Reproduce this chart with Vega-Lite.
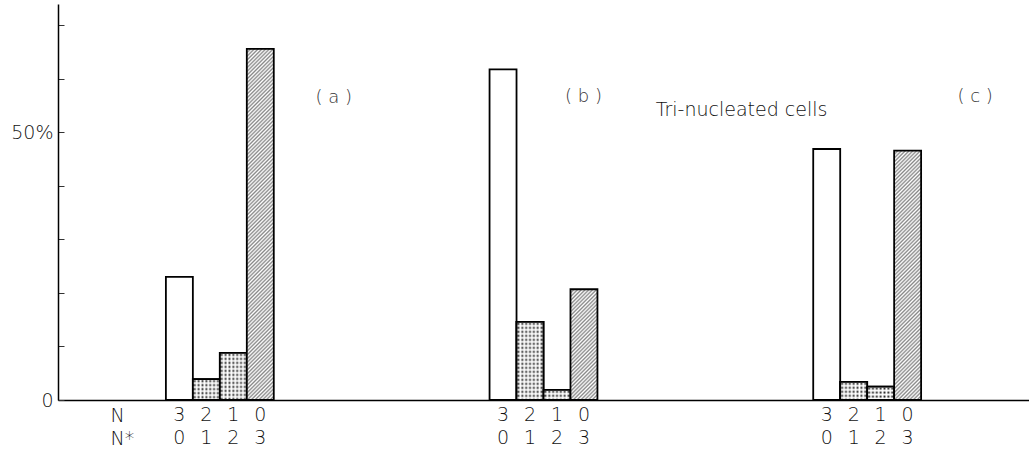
{
  "$schema": "https://vega.github.io/schema/vega-lite/v6.json",
  "width": 971,
  "height": 396,
  "autosize": {"type": "none"},
  "padding": {"left": 58, "top": 4, "right": 0, "bottom": 59},
  "background": "white",
  "config": {"view": {"stroke": null}},
  "datasets": {
    "bars": [
      {"group": "a", "N": "3", "Nstar": "0", "pct": 23.0},
      {"group": "a", "N": "2", "Nstar": "1", "pct": 3.9},
      {"group": "a", "N": "1", "Nstar": "2", "pct": 8.8},
      {"group": "a", "N": "0", "Nstar": "3", "pct": 65.6},
      {"group": "b", "N": "3", "Nstar": "0", "pct": 61.8},
      {"group": "b", "N": "2", "Nstar": "1", "pct": 14.6},
      {"group": "b", "N": "1", "Nstar": "2", "pct": 1.9},
      {"group": "b", "N": "0", "Nstar": "3", "pct": 20.7},
      {"group": "c", "N": "3", "Nstar": "0", "pct": 46.9},
      {"group": "c", "N": "2", "Nstar": "1", "pct": 3.4},
      {"group": "c", "N": "1", "Nstar": "2", "pct": 2.5},
      {"group": "c", "N": "0", "Nstar": "3", "pct": 46.6}
    ],
    "notes": [
      {"label": "( a )", "group": "a", "v": 56.5},
      {"label": "( b )", "group": "b", "v": 56.6},
      {"label": "( c )", "group": "c", "v": 56.6},
      {"label": "Tri-nucleated cells", "group": "b", "v": 54.2}
    ]
  },
  "data": {"name": "bars"},
  "layer": [
    {
      "transform": [{"filter": "datum.N == '3'"}],
      "mark": {"type": "bar", "stroke": "black", "strokeWidth": 1.8, "fill": "white"},
      "encoding": {
        "x": {"field": "group", "type": "nominal", "scale": {"domain": ["a", "b", "c"], "paddingInner": 0, "paddingOuter": 0},
          "axis": {"domain": true, "domainColor": "black", "domainWidth": 1.5, "ticks": false, "labels": false,
            "title": ["N", "N*"], "titleX": 52, "titleY": 21, "titleAlign": "left", "titleBaseline": "alphabetic", "titleAngle": 0,
            "titleFont": "DejaVu Sans", "titleFontSize": 19, "titleFontWeight": 300, "titleColor": "#111", "titleLineHeight": 23}},
        "xOffset": {"field": "N", "type": "nominal", "scale": {"domain": ["3", "2", "1", "0"], "paddingInner": 0, "paddingOuter": 0, "range": [107.89, 215.78]}},
        "y": {"field": "pct", "type": "quantitative", "scale": {"domain": [0, 74], "nice": false},
          "axis": {"values": [0, 10, 20, 30, 40, 50, 60, 70], "labelExpr": "datum.value == 50 ? '50%' : datum.value == 0 ? '0' : ''",
            "tickSize": -6, "tickColor": "#333", "tickWidth": 1, "domainColor": "black", "domainWidth": 1.5, "grid": false, "title": null,
            "labelFont": "DejaVu Sans", "labelFontSize": 19, "labelFontWeight": 300, "labelColor": "#111", "labelPadding": 11}}
      }
    },
    {
      "transform": [{"filter": "datum.N == '2' || datum.N == '1'"}],
      "mark": {"type": "bar", "stroke": "black", "strokeWidth": 1.8,
        "fill": {"gradient": "linear", "x1": 0, "y1": 0, "x2": 1, "y2": 0, "stops": [
          {"offset":0,"color":"#fff"},{"offset":0.0714,"color":"#222"},{"offset":0.1429,"color":"#fff"},{"offset":0.2143,"color":"#222"},{"offset":0.2857,"color":"#fff"},{"offset":0.3571,"color":"#222"},{"offset":0.4286,"color":"#fff"},{"offset":0.5,"color":"#222"},{"offset":0.5714,"color":"#fff"},{"offset":0.6429,"color":"#222"},{"offset":0.7143,"color":"#fff"},{"offset":0.7857,"color":"#222"},{"offset":0.8571,"color":"#fff"},{"offset":0.9286,"color":"#222"},{"offset":1,"color":"#fff"}
        ]}},
      "encoding": {
        "x": {"field": "group", "type": "nominal"},
        "xOffset": {"field": "N", "type": "nominal"},
        "y": {"field": "pct", "type": "quantitative"}
      }
    },
    {
      "transform": [{"filter": "datum.group == 'a' && datum.N == '2'"}],
      "mark": {"type": "bar", "stroke": "black", "strokeWidth": 1.8,
        "fill": {"gradient": "linear", "x1": 0, "y1": 0, "x2": 0, "y2": 3.828, "stops": [
          {"offset":0,"color":"#fff"},{"offset":0.025,"color":"rgba(255,255,255,0)"},{"offset":0.05,"color":"#fff"},{"offset":0.075,"color":"rgba(255,255,255,0)"},{"offset":0.1,"color":"#fff"},{"offset":0.125,"color":"rgba(255,255,255,0)"},{"offset":0.15,"color":"#fff"},{"offset":0.175,"color":"rgba(255,255,255,0)"},{"offset":0.2,"color":"#fff"},{"offset":0.225,"color":"rgba(255,255,255,0)"},{"offset":0.25,"color":"#fff"},{"offset":0.275,"color":"rgba(255,255,255,0)"}
        ]}},
      "encoding": {
        "x": {"field": "group", "type": "nominal"},
        "xOffset": {"field": "N", "type": "nominal"},
        "y": {"field": "pct", "type": "quantitative"}
      }
    },
    {
      "transform": [{"filter": "datum.group == 'a' && datum.N == '1'"}],
      "mark": {"type": "bar", "stroke": "black", "strokeWidth": 1.8,
        "fill": {"gradient": "linear", "x1": 0, "y1": 0, "x2": 0, "y2": 1.699, "stops": [
          {"offset":0,"color":"#fff"},{"offset":0.025,"color":"rgba(255,255,255,0)"},{"offset":0.05,"color":"#fff"},{"offset":0.075,"color":"rgba(255,255,255,0)"},{"offset":0.1,"color":"#fff"},{"offset":0.125,"color":"rgba(255,255,255,0)"},{"offset":0.15,"color":"#fff"},{"offset":0.175,"color":"rgba(255,255,255,0)"},{"offset":0.2,"color":"#fff"},{"offset":0.225,"color":"rgba(255,255,255,0)"},{"offset":0.25,"color":"#fff"},{"offset":0.275,"color":"rgba(255,255,255,0)"},
          {"offset":0.3,"color":"#fff"},{"offset":0.325,"color":"rgba(255,255,255,0)"},{"offset":0.35,"color":"#fff"},{"offset":0.375,"color":"rgba(255,255,255,0)"},{"offset":0.4,"color":"#fff"},{"offset":0.425,"color":"rgba(255,255,255,0)"},{"offset":0.45,"color":"#fff"},{"offset":0.475,"color":"rgba(255,255,255,0)"},{"offset":0.5,"color":"#fff"},{"offset":0.525,"color":"rgba(255,255,255,0)"},{"offset":0.55,"color":"#fff"},{"offset":0.575,"color":"rgba(255,255,255,0)"},{"offset":0.6,"color":"#fff"}
        ]}},
      "encoding": {
        "x": {"field": "group", "type": "nominal"},
        "xOffset": {"field": "N", "type": "nominal"},
        "y": {"field": "pct", "type": "quantitative"}
      }
    },
    {
      "transform": [{"filter": "datum.group == 'b' && datum.N == '2'"}],
      "mark": {"type": "bar", "stroke": "black", "strokeWidth": 1.8,
        "fill": {"gradient": "linear", "x1": 0, "y1": 0, "x2": 0, "y2": 1.024, "stops": [
          {"offset":0,"color":"#fff"},{"offset":0.025,"color":"rgba(255,255,255,0)"},{"offset":0.05,"color":"#fff"},{"offset":0.075,"color":"rgba(255,255,255,0)"},{"offset":0.1,"color":"#fff"},{"offset":0.125,"color":"rgba(255,255,255,0)"},{"offset":0.15,"color":"#fff"},{"offset":0.175,"color":"rgba(255,255,255,0)"},{"offset":0.2,"color":"#fff"},{"offset":0.225,"color":"rgba(255,255,255,0)"},{"offset":0.25,"color":"#fff"},{"offset":0.275,"color":"rgba(255,255,255,0)"},
          {"offset":0.3,"color":"#fff"},{"offset":0.325,"color":"rgba(255,255,255,0)"},{"offset":0.35,"color":"#fff"},{"offset":0.375,"color":"rgba(255,255,255,0)"},{"offset":0.4,"color":"#fff"},{"offset":0.425,"color":"rgba(255,255,255,0)"},{"offset":0.45,"color":"#fff"},{"offset":0.475,"color":"rgba(255,255,255,0)"},{"offset":0.5,"color":"#fff"},{"offset":0.525,"color":"rgba(255,255,255,0)"},{"offset":0.55,"color":"#fff"},{"offset":0.575,"color":"rgba(255,255,255,0)"},
          {"offset":0.6,"color":"#fff"},{"offset":0.625,"color":"rgba(255,255,255,0)"},{"offset":0.65,"color":"#fff"},{"offset":0.675,"color":"rgba(255,255,255,0)"},{"offset":0.7,"color":"#fff"},{"offset":0.725,"color":"rgba(255,255,255,0)"},{"offset":0.75,"color":"#fff"},{"offset":0.775,"color":"rgba(255,255,255,0)"},{"offset":0.8,"color":"#fff"},{"offset":0.825,"color":"rgba(255,255,255,0)"},{"offset":0.85,"color":"#fff"},{"offset":0.875,"color":"rgba(255,255,255,0)"},
          {"offset":0.9,"color":"#fff"},{"offset":0.925,"color":"rgba(255,255,255,0)"},{"offset":0.95,"color":"#fff"},{"offset":0.975,"color":"rgba(255,255,255,0)"},{"offset":1,"color":"#fff"}
        ]}},
      "encoding": {
        "x": {"field": "group", "type": "nominal"},
        "xOffset": {"field": "N", "type": "nominal"},
        "y": {"field": "pct", "type": "quantitative"}
      }
    },
    {
      "transform": [{"filter": "datum.group == 'b' && datum.N == '1'"}],
      "mark": {"type": "bar", "stroke": "black", "strokeWidth": 1.8,
        "fill": {"gradient": "linear", "x1": 0, "y1": 0, "x2": 0, "y2": 7.84, "stops": [
          {"offset":0,"color":"#fff"},{"offset":0.025,"color":"rgba(255,255,255,0)"},{"offset":0.05,"color":"#fff"},{"offset":0.075,"color":"rgba(255,255,255,0)"},{"offset":0.1,"color":"#fff"},{"offset":0.125,"color":"rgba(255,255,255,0)"},{"offset":0.15,"color":"#fff"}
        ]}},
      "encoding": {
        "x": {"field": "group", "type": "nominal"},
        "xOffset": {"field": "N", "type": "nominal"},
        "y": {"field": "pct", "type": "quantitative"}
      }
    },
    {
      "transform": [{"filter": "datum.group == 'c' && datum.N == '2'"}],
      "mark": {"type": "bar", "stroke": "black", "strokeWidth": 1.8,
        "fill": {"gradient": "linear", "x1": 0, "y1": 0, "x2": 0, "y2": 4.396, "stops": [
          {"offset":0,"color":"#fff"},{"offset":0.025,"color":"rgba(255,255,255,0)"},{"offset":0.05,"color":"#fff"},{"offset":0.075,"color":"rgba(255,255,255,0)"},{"offset":0.1,"color":"#fff"},{"offset":0.125,"color":"rgba(255,255,255,0)"},{"offset":0.15,"color":"#fff"},{"offset":0.175,"color":"rgba(255,255,255,0)"},{"offset":0.2,"color":"#fff"},{"offset":0.225,"color":"rgba(255,255,255,0)"},{"offset":0.25,"color":"#fff"}
        ]}},
      "encoding": {
        "x": {"field": "group", "type": "nominal"},
        "xOffset": {"field": "N", "type": "nominal"},
        "y": {"field": "pct", "type": "quantitative"}
      }
    },
    {
      "transform": [{"filter": "datum.group == 'c' && datum.N == '1'"}],
      "mark": {"type": "bar", "stroke": "black", "strokeWidth": 1.8,
        "fill": {"gradient": "linear", "x1": 0, "y1": 0, "x2": 0, "y2": 5.97, "stops": [
          {"offset":0,"color":"#fff"},{"offset":0.025,"color":"rgba(255,255,255,0)"},{"offset":0.05,"color":"#fff"},{"offset":0.075,"color":"rgba(255,255,255,0)"},{"offset":0.1,"color":"#fff"},{"offset":0.125,"color":"rgba(255,255,255,0)"},{"offset":0.15,"color":"#fff"},{"offset":0.175,"color":"rgba(255,255,255,0)"},{"offset":0.2,"color":"#fff"}
        ]}},
      "encoding": {
        "x": {"field": "group", "type": "nominal"},
        "xOffset": {"field": "N", "type": "nominal"},
        "y": {"field": "pct", "type": "quantitative"}
      }
    },
    {
      "transform": [{"filter": "datum.group == 'a' && datum.N == '0'"}],
      "mark": {"type": "bar", "stroke": "black", "strokeWidth": 1.8,
        "fill": {"gradient": "linear", "x1": 0, "y1": 0, "x2": 0.08235, "y2": 1.07059, "stops": [
          {"offset":0,"color":"#888"},{"offset":0.005,"color":"#fff"},{"offset":0.01,"color":"#888"},{"offset":0.015,"color":"#fff"},{"offset":0.02,"color":"#888"},{"offset":0.025,"color":"#fff"},{"offset":0.03,"color":"#888"},{"offset":0.035,"color":"#fff"},{"offset":0.04,"color":"#888"},{"offset":0.045,"color":"#fff"},
          {"offset":0.05,"color":"#888"},{"offset":0.055,"color":"#fff"},{"offset":0.06,"color":"#888"},{"offset":0.065,"color":"#fff"},{"offset":0.07,"color":"#888"},{"offset":0.075,"color":"#fff"},{"offset":0.08,"color":"#888"},{"offset":0.085,"color":"#fff"},{"offset":0.09,"color":"#888"},{"offset":0.095,"color":"#fff"},
          {"offset":0.1,"color":"#888"},{"offset":0.105,"color":"#fff"},{"offset":0.11,"color":"#888"},{"offset":0.115,"color":"#fff"},{"offset":0.12,"color":"#888"},{"offset":0.125,"color":"#fff"},{"offset":0.13,"color":"#888"},{"offset":0.135,"color":"#fff"},{"offset":0.14,"color":"#888"},{"offset":0.145,"color":"#fff"},
          {"offset":0.15,"color":"#888"},{"offset":0.155,"color":"#fff"},{"offset":0.16,"color":"#888"},{"offset":0.165,"color":"#fff"},{"offset":0.17,"color":"#888"},{"offset":0.175,"color":"#fff"},{"offset":0.18,"color":"#888"},{"offset":0.185,"color":"#fff"},{"offset":0.19,"color":"#888"},{"offset":0.195,"color":"#fff"},
          {"offset":0.2,"color":"#888"},{"offset":0.205,"color":"#fff"},{"offset":0.21,"color":"#888"},{"offset":0.215,"color":"#fff"},{"offset":0.22,"color":"#888"},{"offset":0.225,"color":"#fff"},{"offset":0.23,"color":"#888"},{"offset":0.235,"color":"#fff"},{"offset":0.24,"color":"#888"},{"offset":0.245,"color":"#fff"},
          {"offset":0.25,"color":"#888"},{"offset":0.255,"color":"#fff"},{"offset":0.26,"color":"#888"},{"offset":0.265,"color":"#fff"},{"offset":0.27,"color":"#888"},{"offset":0.275,"color":"#fff"},{"offset":0.28,"color":"#888"},{"offset":0.285,"color":"#fff"},{"offset":0.29,"color":"#888"},{"offset":0.295,"color":"#fff"},
          {"offset":0.3,"color":"#888"},{"offset":0.305,"color":"#fff"},{"offset":0.31,"color":"#888"},{"offset":0.315,"color":"#fff"},{"offset":0.32,"color":"#888"},{"offset":0.325,"color":"#fff"},{"offset":0.33,"color":"#888"},{"offset":0.335,"color":"#fff"},{"offset":0.34,"color":"#888"},{"offset":0.345,"color":"#fff"},
          {"offset":0.35,"color":"#888"},{"offset":0.355,"color":"#fff"},{"offset":0.36,"color":"#888"},{"offset":0.365,"color":"#fff"},{"offset":0.37,"color":"#888"},{"offset":0.375,"color":"#fff"},{"offset":0.38,"color":"#888"},{"offset":0.385,"color":"#fff"},{"offset":0.39,"color":"#888"},{"offset":0.395,"color":"#fff"},
          {"offset":0.4,"color":"#888"},{"offset":0.405,"color":"#fff"},{"offset":0.41,"color":"#888"},{"offset":0.415,"color":"#fff"},{"offset":0.42,"color":"#888"},{"offset":0.425,"color":"#fff"},{"offset":0.43,"color":"#888"},{"offset":0.435,"color":"#fff"},{"offset":0.44,"color":"#888"},{"offset":0.445,"color":"#fff"},
          {"offset":0.45,"color":"#888"},{"offset":0.455,"color":"#fff"},{"offset":0.46,"color":"#888"},{"offset":0.465,"color":"#fff"},{"offset":0.47,"color":"#888"},{"offset":0.475,"color":"#fff"},{"offset":0.48,"color":"#888"},{"offset":0.485,"color":"#fff"},{"offset":0.49,"color":"#888"},{"offset":0.495,"color":"#fff"},
          {"offset":0.5,"color":"#888"},{"offset":0.505,"color":"#fff"},{"offset":0.51,"color":"#888"},{"offset":0.515,"color":"#fff"},{"offset":0.52,"color":"#888"},{"offset":0.525,"color":"#fff"},{"offset":0.53,"color":"#888"},{"offset":0.535,"color":"#fff"},{"offset":0.54,"color":"#888"},{"offset":0.545,"color":"#fff"},
          {"offset":0.55,"color":"#888"},{"offset":0.555,"color":"#fff"},{"offset":0.56,"color":"#888"},{"offset":0.565,"color":"#fff"},{"offset":0.57,"color":"#888"},{"offset":0.575,"color":"#fff"},{"offset":0.58,"color":"#888"},{"offset":0.585,"color":"#fff"},{"offset":0.59,"color":"#888"},{"offset":0.595,"color":"#fff"},
          {"offset":0.6,"color":"#888"},{"offset":0.605,"color":"#fff"},{"offset":0.61,"color":"#888"},{"offset":0.615,"color":"#fff"},{"offset":0.62,"color":"#888"},{"offset":0.625,"color":"#fff"},{"offset":0.63,"color":"#888"},{"offset":0.635,"color":"#fff"},{"offset":0.64,"color":"#888"},{"offset":0.645,"color":"#fff"},
          {"offset":0.65,"color":"#888"},{"offset":0.655,"color":"#fff"},{"offset":0.66,"color":"#888"},{"offset":0.665,"color":"#fff"},{"offset":0.67,"color":"#888"},{"offset":0.675,"color":"#fff"},{"offset":0.68,"color":"#888"},{"offset":0.685,"color":"#fff"},{"offset":0.69,"color":"#888"},{"offset":0.695,"color":"#fff"},
          {"offset":0.7,"color":"#888"},{"offset":0.705,"color":"#fff"},{"offset":0.71,"color":"#888"},{"offset":0.715,"color":"#fff"},{"offset":0.72,"color":"#888"},{"offset":0.725,"color":"#fff"},{"offset":0.73,"color":"#888"},{"offset":0.735,"color":"#fff"},{"offset":0.74,"color":"#888"},{"offset":0.745,"color":"#fff"},
          {"offset":0.75,"color":"#888"},{"offset":0.755,"color":"#fff"},{"offset":0.76,"color":"#888"},{"offset":0.765,"color":"#fff"},{"offset":0.77,"color":"#888"},{"offset":0.775,"color":"#fff"},{"offset":0.78,"color":"#888"},{"offset":0.785,"color":"#fff"},{"offset":0.79,"color":"#888"},{"offset":0.795,"color":"#fff"},
          {"offset":0.8,"color":"#888"},{"offset":0.805,"color":"#fff"},{"offset":0.81,"color":"#888"},{"offset":0.815,"color":"#fff"},{"offset":0.82,"color":"#888"},{"offset":0.825,"color":"#fff"},{"offset":0.83,"color":"#888"},{"offset":0.835,"color":"#fff"},{"offset":0.84,"color":"#888"},{"offset":0.845,"color":"#fff"},
          {"offset":0.85,"color":"#888"},{"offset":0.855,"color":"#fff"},{"offset":0.86,"color":"#888"},{"offset":0.865,"color":"#fff"},{"offset":0.87,"color":"#888"},{"offset":0.875,"color":"#fff"},{"offset":0.88,"color":"#888"},{"offset":0.885,"color":"#fff"},{"offset":0.89,"color":"#888"},{"offset":0.895,"color":"#fff"},
          {"offset":0.9,"color":"#888"},{"offset":0.905,"color":"#fff"},{"offset":0.91,"color":"#888"},{"offset":0.915,"color":"#fff"},{"offset":0.92,"color":"#888"},{"offset":0.925,"color":"#fff"},{"offset":0.93,"color":"#888"},{"offset":0.935,"color":"#fff"},{"offset":0.94,"color":"#888"},{"offset":0.945,"color":"#fff"},
          {"offset":0.95,"color":"#888"},{"offset":0.955,"color":"#fff"},{"offset":0.96,"color":"#888"},{"offset":0.965,"color":"#fff"},{"offset":0.97,"color":"#888"},{"offset":0.975,"color":"#fff"},{"offset":0.98,"color":"#888"},{"offset":0.985,"color":"#fff"},{"offset":0.99,"color":"#888"},{"offset":0.995,"color":"#fff"},
          {"offset":1,"color":"#888"}
        ]}},
      "encoding": {
        "x": {"field": "group", "type": "nominal"},
        "xOffset": {"field": "N", "type": "nominal"},
        "y": {"field": "pct", "type": "quantitative"}
      }
    },
    {
      "transform": [{"filter": "datum.group == 'b' && datum.N == '0'"}],
      "mark": {"type": "bar", "stroke": "black", "strokeWidth": 1.8,
        "fill": {"gradient": "linear", "x1": 0, "y1": 0, "x2": 0.78608, "y2": 3.22292, "stops": [
          {"offset":0,"color":"#888"},{"offset":0.005,"color":"#fff"},{"offset":0.01,"color":"#888"},{"offset":0.015,"color":"#fff"},{"offset":0.02,"color":"#888"},{"offset":0.025,"color":"#fff"},{"offset":0.03,"color":"#888"},{"offset":0.035,"color":"#fff"},{"offset":0.04,"color":"#888"},{"offset":0.045,"color":"#fff"},
          {"offset":0.05,"color":"#888"},{"offset":0.055,"color":"#fff"},{"offset":0.06,"color":"#888"},{"offset":0.065,"color":"#fff"},{"offset":0.07,"color":"#888"},{"offset":0.075,"color":"#fff"},{"offset":0.08,"color":"#888"},{"offset":0.085,"color":"#fff"},{"offset":0.09,"color":"#888"},{"offset":0.095,"color":"#fff"},
          {"offset":0.1,"color":"#888"},{"offset":0.105,"color":"#fff"},{"offset":0.11,"color":"#888"},{"offset":0.115,"color":"#fff"},{"offset":0.12,"color":"#888"},{"offset":0.125,"color":"#fff"},{"offset":0.13,"color":"#888"},{"offset":0.135,"color":"#fff"},{"offset":0.14,"color":"#888"},{"offset":0.145,"color":"#fff"},
          {"offset":0.15,"color":"#888"},{"offset":0.155,"color":"#fff"},{"offset":0.16,"color":"#888"},{"offset":0.165,"color":"#fff"},{"offset":0.17,"color":"#888"},{"offset":0.175,"color":"#fff"},{"offset":0.18,"color":"#888"},{"offset":0.185,"color":"#fff"},{"offset":0.19,"color":"#888"},{"offset":0.195,"color":"#fff"},
          {"offset":0.2,"color":"#888"},{"offset":0.205,"color":"#fff"},{"offset":0.21,"color":"#888"},{"offset":0.215,"color":"#fff"},{"offset":0.22,"color":"#888"},{"offset":0.225,"color":"#fff"},{"offset":0.23,"color":"#888"},{"offset":0.235,"color":"#fff"},{"offset":0.24,"color":"#888"},{"offset":0.245,"color":"#fff"},
          {"offset":0.25,"color":"#888"},{"offset":0.255,"color":"#fff"},{"offset":0.26,"color":"#888"},{"offset":0.265,"color":"#fff"},{"offset":0.27,"color":"#888"},{"offset":0.275,"color":"#fff"},{"offset":0.28,"color":"#888"},{"offset":0.285,"color":"#fff"},{"offset":0.29,"color":"#888"},{"offset":0.295,"color":"#fff"},
          {"offset":0.3,"color":"#888"},{"offset":0.305,"color":"#fff"},{"offset":0.31,"color":"#888"},{"offset":0.315,"color":"#fff"},{"offset":0.32,"color":"#888"},{"offset":0.325,"color":"#fff"},{"offset":0.33,"color":"#888"},{"offset":0.335,"color":"#fff"},{"offset":0.34,"color":"#888"},{"offset":0.345,"color":"#fff"},
          {"offset":0.35,"color":"#888"},{"offset":0.355,"color":"#fff"},{"offset":0.36,"color":"#888"},{"offset":0.365,"color":"#fff"},{"offset":0.37,"color":"#888"},{"offset":0.375,"color":"#fff"}
        ]}},
      "encoding": {
        "x": {"field": "group", "type": "nominal"},
        "xOffset": {"field": "N", "type": "nominal"},
        "y": {"field": "pct", "type": "quantitative"}
      }
    },
    {
      "transform": [{"filter": "datum.group == 'c' && datum.N == '0'"}],
      "mark": {"type": "bar", "stroke": "black", "strokeWidth": 1.8,
        "fill": {"gradient": "linear", "x1": 0, "y1": 0, "x2": 0.16231, "y2": 1.49867, "stops": [
          {"offset":0,"color":"#888"},{"offset":0.005,"color":"#fff"},{"offset":0.01,"color":"#888"},{"offset":0.015,"color":"#fff"},{"offset":0.02,"color":"#888"},{"offset":0.025,"color":"#fff"},{"offset":0.03,"color":"#888"},{"offset":0.035,"color":"#fff"},{"offset":0.04,"color":"#888"},{"offset":0.045,"color":"#fff"},
          {"offset":0.05,"color":"#888"},{"offset":0.055,"color":"#fff"},{"offset":0.06,"color":"#888"},{"offset":0.065,"color":"#fff"},{"offset":0.07,"color":"#888"},{"offset":0.075,"color":"#fff"},{"offset":0.08,"color":"#888"},{"offset":0.085,"color":"#fff"},{"offset":0.09,"color":"#888"},{"offset":0.095,"color":"#fff"},
          {"offset":0.1,"color":"#888"},{"offset":0.105,"color":"#fff"},{"offset":0.11,"color":"#888"},{"offset":0.115,"color":"#fff"},{"offset":0.12,"color":"#888"},{"offset":0.125,"color":"#fff"},{"offset":0.13,"color":"#888"},{"offset":0.135,"color":"#fff"},{"offset":0.14,"color":"#888"},{"offset":0.145,"color":"#fff"},
          {"offset":0.15,"color":"#888"},{"offset":0.155,"color":"#fff"},{"offset":0.16,"color":"#888"},{"offset":0.165,"color":"#fff"},{"offset":0.17,"color":"#888"},{"offset":0.175,"color":"#fff"},{"offset":0.18,"color":"#888"},{"offset":0.185,"color":"#fff"},{"offset":0.19,"color":"#888"},{"offset":0.195,"color":"#fff"},
          {"offset":0.2,"color":"#888"},{"offset":0.205,"color":"#fff"},{"offset":0.21,"color":"#888"},{"offset":0.215,"color":"#fff"},{"offset":0.22,"color":"#888"},{"offset":0.225,"color":"#fff"},{"offset":0.23,"color":"#888"},{"offset":0.235,"color":"#fff"},{"offset":0.24,"color":"#888"},{"offset":0.245,"color":"#fff"},
          {"offset":0.25,"color":"#888"},{"offset":0.255,"color":"#fff"},{"offset":0.26,"color":"#888"},{"offset":0.265,"color":"#fff"},{"offset":0.27,"color":"#888"},{"offset":0.275,"color":"#fff"},{"offset":0.28,"color":"#888"},{"offset":0.285,"color":"#fff"},{"offset":0.29,"color":"#888"},{"offset":0.295,"color":"#fff"},
          {"offset":0.3,"color":"#888"},{"offset":0.305,"color":"#fff"},{"offset":0.31,"color":"#888"},{"offset":0.315,"color":"#fff"},{"offset":0.32,"color":"#888"},{"offset":0.325,"color":"#fff"},{"offset":0.33,"color":"#888"},{"offset":0.335,"color":"#fff"},{"offset":0.34,"color":"#888"},{"offset":0.345,"color":"#fff"},
          {"offset":0.35,"color":"#888"},{"offset":0.355,"color":"#fff"},{"offset":0.36,"color":"#888"},{"offset":0.365,"color":"#fff"},{"offset":0.37,"color":"#888"},{"offset":0.375,"color":"#fff"},{"offset":0.38,"color":"#888"},{"offset":0.385,"color":"#fff"},{"offset":0.39,"color":"#888"},{"offset":0.395,"color":"#fff"},
          {"offset":0.4,"color":"#888"},{"offset":0.405,"color":"#fff"},{"offset":0.41,"color":"#888"},{"offset":0.415,"color":"#fff"},{"offset":0.42,"color":"#888"},{"offset":0.425,"color":"#fff"},{"offset":0.43,"color":"#888"},{"offset":0.435,"color":"#fff"},{"offset":0.44,"color":"#888"},{"offset":0.445,"color":"#fff"},
          {"offset":0.45,"color":"#888"},{"offset":0.455,"color":"#fff"},{"offset":0.46,"color":"#888"},{"offset":0.465,"color":"#fff"},{"offset":0.47,"color":"#888"},{"offset":0.475,"color":"#fff"},{"offset":0.48,"color":"#888"},{"offset":0.485,"color":"#fff"},{"offset":0.49,"color":"#888"},{"offset":0.495,"color":"#fff"},
          {"offset":0.5,"color":"#888"},{"offset":0.505,"color":"#fff"},{"offset":0.51,"color":"#888"},{"offset":0.515,"color":"#fff"},{"offset":0.52,"color":"#888"},{"offset":0.525,"color":"#fff"},{"offset":0.53,"color":"#888"},{"offset":0.535,"color":"#fff"},{"offset":0.54,"color":"#888"},{"offset":0.545,"color":"#fff"},
          {"offset":0.55,"color":"#888"},{"offset":0.555,"color":"#fff"},{"offset":0.56,"color":"#888"},{"offset":0.565,"color":"#fff"},{"offset":0.57,"color":"#888"},{"offset":0.575,"color":"#fff"},{"offset":0.58,"color":"#888"},{"offset":0.585,"color":"#fff"},{"offset":0.59,"color":"#888"},{"offset":0.595,"color":"#fff"},
          {"offset":0.6,"color":"#888"},{"offset":0.605,"color":"#fff"},{"offset":0.61,"color":"#888"},{"offset":0.615,"color":"#fff"},{"offset":0.62,"color":"#888"},{"offset":0.625,"color":"#fff"},{"offset":0.63,"color":"#888"},{"offset":0.635,"color":"#fff"},{"offset":0.64,"color":"#888"},{"offset":0.645,"color":"#fff"},
          {"offset":0.65,"color":"#888"},{"offset":0.655,"color":"#fff"},{"offset":0.66,"color":"#888"},{"offset":0.665,"color":"#fff"},{"offset":0.67,"color":"#888"},{"offset":0.675,"color":"#fff"},{"offset":0.68,"color":"#888"},{"offset":0.685,"color":"#fff"},{"offset":0.69,"color":"#888"},{"offset":0.695,"color":"#fff"},
          {"offset":0.7,"color":"#888"},{"offset":0.705,"color":"#fff"},{"offset":0.71,"color":"#888"},{"offset":0.715,"color":"#fff"},{"offset":0.72,"color":"#888"},{"offset":0.725,"color":"#fff"},{"offset":0.73,"color":"#888"},{"offset":0.735,"color":"#fff"},{"offset":0.74,"color":"#888"},{"offset":0.745,"color":"#fff"}
        ]}},
      "encoding": {
        "x": {"field": "group", "type": "nominal"},
        "xOffset": {"field": "N", "type": "nominal"},
        "y": {"field": "pct", "type": "quantitative"}
      }
    },
    {
      "mark": {"type": "text", "font": "DejaVu Sans", "fontSize": 19, "fontWeight": 300, "color": "#111", "baseline": "alphabetic", "dy": 21},
      "encoding": {
        "x": {"field": "group", "type": "nominal"},
        "xOffset": {"field": "N", "type": "nominal"},
        "y": {"datum": 0, "type": "quantitative"},
        "text": {"field": "N"}
      }
    },
    {
      "mark": {"type": "text", "font": "DejaVu Sans", "fontSize": 19, "fontWeight": 300, "color": "#111", "baseline": "alphabetic", "dy": 44},
      "encoding": {
        "x": {"field": "group", "type": "nominal"},
        "xOffset": {"field": "N", "type": "nominal"},
        "y": {"datum": 0, "type": "quantitative"},
        "text": {"field": "Nstar"}
      }
    },
    {
      "data": {"name": "notes"},
      "transform": [{"filter": "datum.label == '( a )'"}],
      "mark": {"type": "text", "font": "DejaVu Sans", "fontSize": 18, "fontWeight": 300, "color": "#333", "baseline": "middle", "dx": 114},
      "encoding": {
        "x": {"field": "group", "type": "nominal"},
        "y": {"field": "v", "type": "quantitative"},
        "text": {"field": "label"}
      }
    },
    {
      "data": {"name": "notes"},
      "transform": [{"filter": "datum.label == '( b )'"}],
      "mark": {"type": "text", "font": "DejaVu Sans", "fontSize": 18, "fontWeight": 300, "color": "#333", "baseline": "middle", "dx": 40},
      "encoding": {
        "x": {"field": "group", "type": "nominal"},
        "y": {"field": "v", "type": "quantitative"},
        "text": {"field": "label"}
      }
    },
    {
      "data": {"name": "notes"},
      "transform": [{"filter": "datum.label == '( c )'"}],
      "mark": {"type": "text", "font": "DejaVu Sans", "fontSize": 18, "fontWeight": 300, "color": "#333", "baseline": "middle", "dx": 108},
      "encoding": {
        "x": {"field": "group", "type": "nominal"},
        "y": {"field": "v", "type": "quantitative"},
        "text": {"field": "label"}
      }
    },
    {
      "data": {"name": "notes"},
      "transform": [{"filter": "datum.label == 'Tri-nucleated cells'"}],
      "mark": {"type": "text", "font": "DejaVu Sans", "fontSize": 19, "fontWeight": 300, "color": "#111", "baseline": "middle", "dx": 198},
      "encoding": {
        "x": {"field": "group", "type": "nominal"},
        "y": {"field": "v", "type": "quantitative"},
        "text": {"field": "label"}
      }
    }
  ]
}
